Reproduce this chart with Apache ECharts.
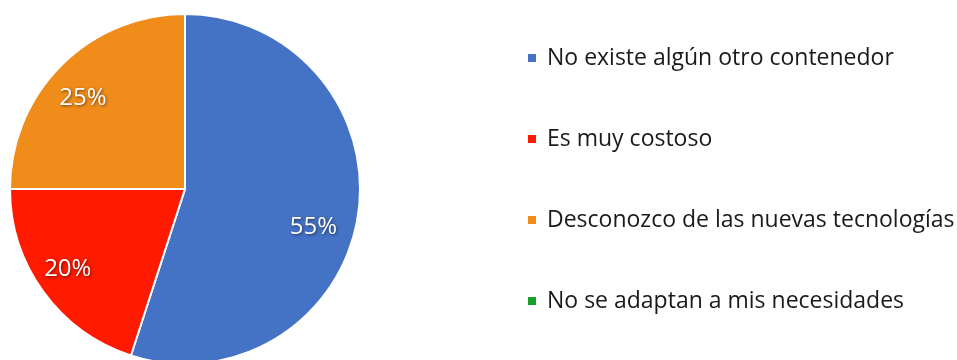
<!DOCTYPE html>
<html>
<head>
<meta charset="utf-8">
<script src="https://cdn.jsdelivr.net/npm/echarts@6/dist/echarts.min.js"></script>
<style>
  html, body { margin: 0; padding: 0; background: #fff; }
  #chart { width: 957px; height: 360px; }
</style>
</head>
<body>
<div id="chart"></div>
<script>
// Survey answers and their shares (percent)
const categories = [
  'No existe algún otro contenedor',
  'Es muy costoso',
  'Desconozco de las nuevas tecnologías',
  'No se adaptan a mis necesidades'
];
const shares = [55, 20, 25, 0];
const colors = ['#4472C4', '#FF1A00', '#F08C1A', '#18A22A'];
// Nudges so the percentage labels sit further out in their slices
const labelOffsets = [[39, 24], [-44, 27], [-38, -27], [0, 0]];

const chart = echarts.init(document.getElementById('chart'), null, { renderer: 'canvas' });

const data = categories.map((name, i) => ({
  name,
  value: shares[i],
  itemStyle: { color: colors[i] },
  label: { offset: labelOffsets[i], show: shares[i] > 0 }
}));

chart.setOption({
  animation: false,
  legend: {
    orient: 'vertical',
    left: 521,
    top: 41,
    itemWidth: 10,
    itemHeight: 10,
    itemGap: 57,
    icon: 'rect',
    textStyle: {
      fontFamily: '"Open Sans", sans-serif',
      fontSize: 23,
      color: '#1a1a1a',
      lineHeight: 24,
      padding: [0, 0, 0, 5]
    },
    data: categories
  },
  series: [{
    type: 'pie',
    center: [185, 189],
    radius: 175,
    startAngle: 90,
    clockwise: true,
    avoidLabelOverlap: false,
    itemStyle: { borderColor: '#fff', borderWidth: 2 },
    label: {
      position: 'inside',
      formatter: p => p.value + '%',
      fontFamily: '"Open Sans", sans-serif',
      fontSize: 24,
      color: '#fff',
      textShadowColor: 'rgba(0,0,0,0.55)',
      textShadowBlur: 3,
      textShadowOffsetX: 1,
      textShadowOffsetY: 1
    },
    labelLine: { show: false },
    emphasis: { disabled: true },
    data
  }]
});
</script>
</body>
</html>
